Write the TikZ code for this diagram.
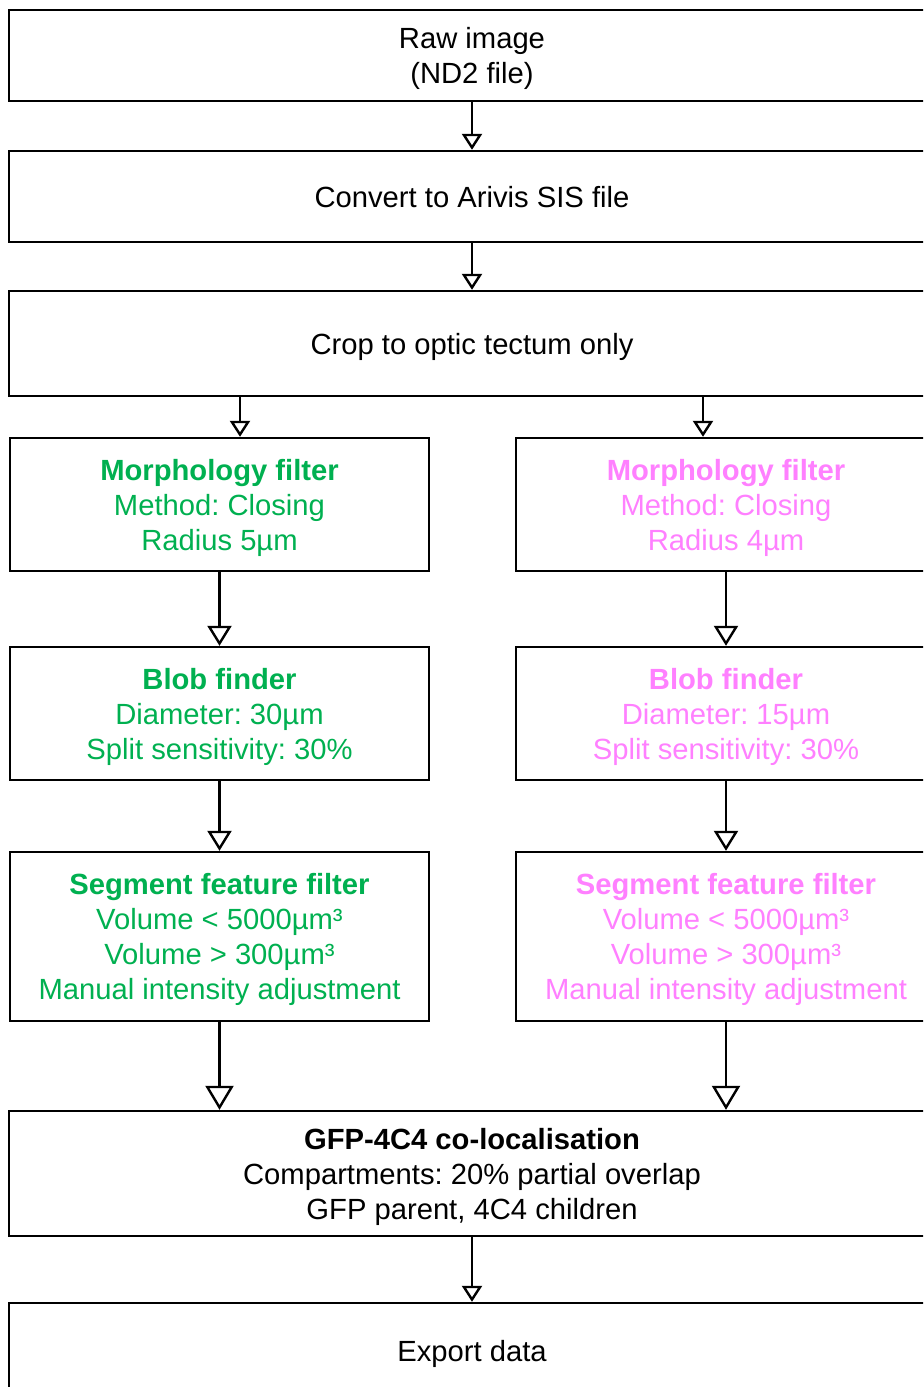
\documentclass[tikz,border=0pt]{standalone}
\usepackage{fontspec}
\setmainfont{Liberation Sans}
\usepackage{tikz}
\usetikzlibrary{positioning,arrows.meta}
\definecolor{segGreen}{RGB}{0,176,80}
\definecolor{segPink}{RGB}{255,128,255}
\newcommand{\boxfont}{\fontsize{14.6}{17.5}\selectfont\frenchspacing}

\begin{document}
\begin{tikzpicture}[
    stage/.style={draw, line width=1.2pt, align=center, inner sep=0pt, text depth=0pt, font=\boxfont},
    wide/.style={stage, minimum width=463pt},
    half/.style={stage, minimum width=209.5pt},
    flow/.style={line width=1.2pt, -{Triangle[open, length=#1, width=#1+2pt]}},
    flow/.default=8pt
  ]
  \path[use as bounding box, clip] (0,0) rectangle (461.5pt,-693.5pt);

  \node [wide, minimum height=45.5pt] (Raw) at (236pt,-27.75pt) {Raw image\\(ND2 file)};
  \node [wide, minimum height=45.5pt, on grid, below=70.5pt of Raw] (Conv) {Convert to Arivis SIS file};
  \node [wide, minimum height=52.5pt, on grid, below=73.5pt of Conv] (Crop) {Crop to optic tectum only};

  % green channel
  \node [half, minimum height=66.5pt, text=segGreen, on grid, below left=80.5pt and 126.25pt of Crop] (MorphG)
    {\textbf{Morphology filter}\\Method: Closing\\Radius 5µm};
  \node [half, minimum height=66.5pt, text=segGreen, on grid, below=104.5pt of MorphG] (BlobG)
    {\textbf{Blob finder}\\Diameter: 30µm\\Split sensitivity: 30\%};
  \node [half, minimum height=84.5pt, text=segGreen, on grid, below=111.5pt of BlobG] (SegG)
    {\textbf{Segment feature filter}\\Volume < 5000µm³\\Volume > 300µm³\\Manual intensity adjustment};

  % pink channel
  \node [half, minimum width=210pt, minimum height=66.5pt, text=segPink, on grid, below right=80.5pt and 127pt of Crop] (MorphP)
    {\textbf{Morphology filter}\\Method: Closing\\Radius 4µm};
  \node [half, minimum width=210pt, minimum height=66.5pt, text=segPink, on grid, below=104.5pt of MorphP] (BlobP)
    {\textbf{Blob finder}\\Diameter: 15µm\\Split sensitivity: 30\%};
  \node [half, minimum width=210pt, minimum height=84.5pt, text=segPink, on grid, below=111.5pt of BlobP] (SegP)
    {\textbf{Segment feature filter}\\Volume < 5000µm³\\Volume > 300µm³\\Manual intensity adjustment};

  \node [wide, minimum height=62.5pt, on grid, below right=118.5pt and 126.25pt of SegG] (Coloc)
    {\textbf{GFP-4C4 co-localisation}\\Compartments: 20\% partial overlap\\GFP parent, 4C4 children};
  \node [wide, minimum height=47.5pt, on grid, below=88.5pt of Coloc] (Export) {Export data};

  \draw [flow] (Raw) -- (Conv);
  \draw [flow] (Conv) -- (Crop);
  \draw [flow] ([xshift=-116pt]Crop.south) -- ([xshift=10.25pt]MorphG.north);
  \draw [flow] ([xshift=115.5pt]Crop.south) -- ([xshift=-11.5pt]MorphP.north);
  \draw [flow=10pt] (MorphG) -- (BlobG);
  \draw [flow=10pt] (BlobG) -- (SegG);
  \draw [flow=10pt] (MorphP) -- (BlobP);
  \draw [flow=10pt] (BlobP) -- (SegP);
  \draw [flow=12pt] (SegG) -- (SegG |- Coloc.north);
  \draw [flow=12pt] (SegP) -- (SegP |- Coloc.north);
  \draw [flow] (Coloc) -- (Export);
\end{tikzpicture}
\end{document}
